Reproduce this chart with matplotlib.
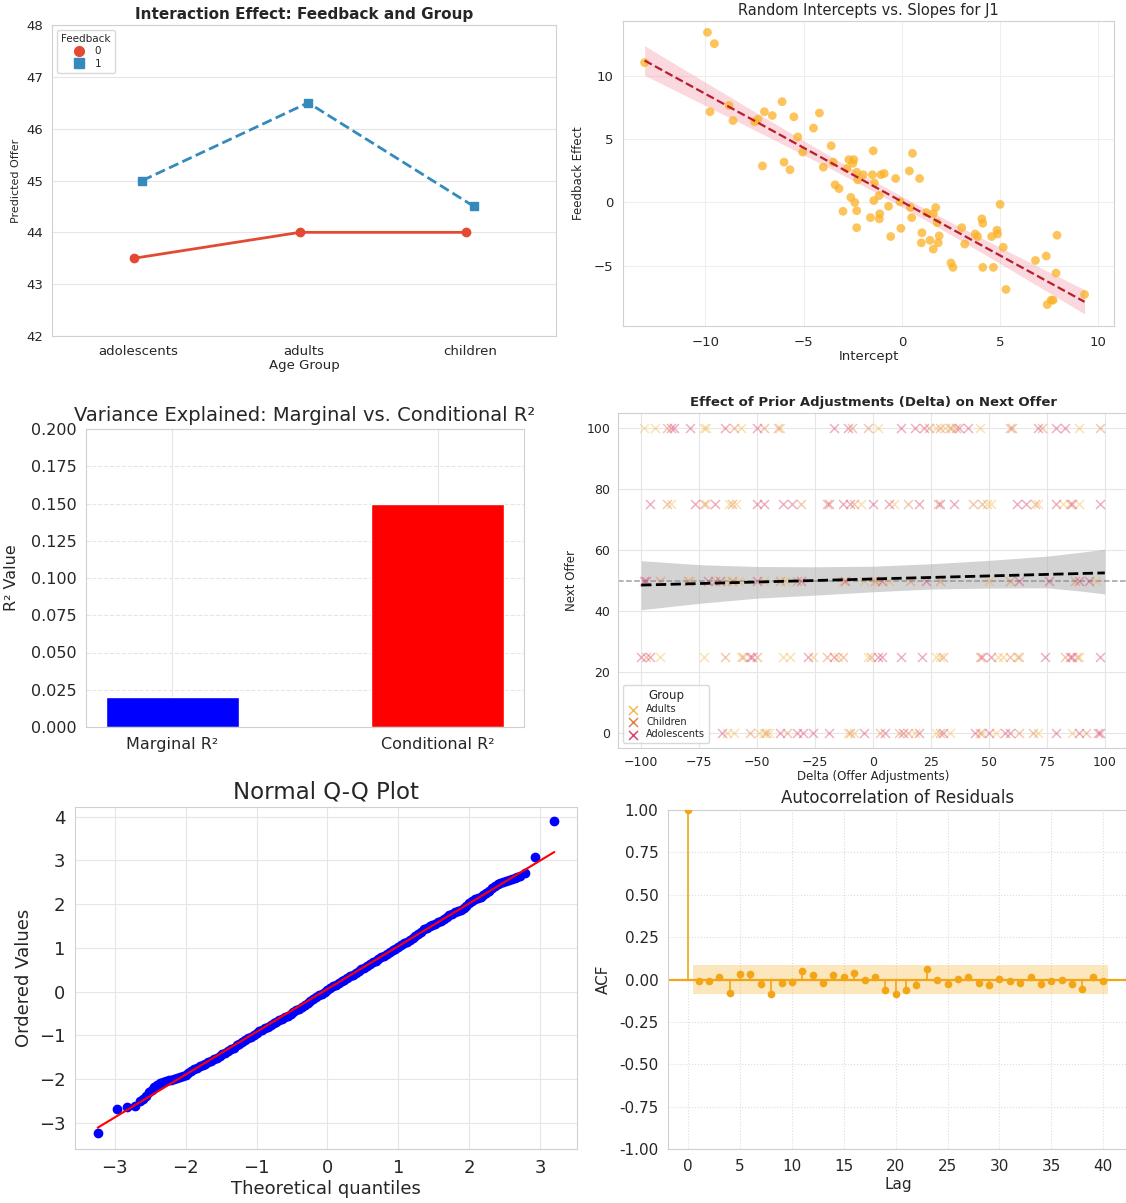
import numpy as np
import matplotlib.pyplot as plt
import seaborn as sns
from matplotlib.lines import Line2D

sns.set_style("whitegrid")
plt.rcParams['font.family'] = ['DejaVu Sans']
plt.rcParams['axes.edgecolor'] = '#d0d0d0'
plt.rcParams['grid.color'] = '#e6e6e6'

# ----- Panel 1: interaction effect -----
age_groups = ["adolescents", "adults", "children"]
offer_fb0 = [43.5, 44.0, 44.0]
offer_fb1 = [45.0, 46.5, 44.5]

# ----- Panel 2: random intercepts vs slopes -----
intercepts = [-13.1, -9.9, -9.55, -9.77, -8.8, -8.6, -7.33, -7.5, -7.0, -6.6, -7.1, -6.1,
              -6.0, -5.7, -5.5, -5.3, -5.05, -4.5, -4.2, -4.0, -3.6, -3.5, -3.4, -3.2, -3.0,
              -2.8, -2.7, -2.5, -2.45, -2.6, -2.4, -2.3, -2.3, -2.3, -2.25, -1.97, -1.6, -1.5,
              -1.46, -1.43, -1.4, -1.16, -1.13, -1.15, -1.07, -0.9, -0.68, -0.57, -0.32, -0.09,
              -0.05, 0.38, 0.43, 0.5, 0.54, 0.9, 1.02, 0.99, 1.25, 1.43, 1.6, 1.6, 1.72, 1.8,
              1.85, 1.9, 2.5, 2.6, 3.05, 3.2, 3.73, 3.85, 4.07, 4.12, 4.12, 4.57, 4.66, 4.84,
              4.87, 5.0, 5.16, 5.3, 6.8, 7.35, 7.4, 7.6, 7.7, 7.85, 7.9, 9.3]
feedback_eff = [11.1, 13.5, 12.6, 7.2, 7.7, 6.5, 6.6, 6.4, 7.2, 6.9, 2.9, 8.0,
                3.2, 2.6, 6.8, 5.2, 4.0, 5.9, 7.1, 2.8, 4.5, 3.2, 1.4, 1.1, -0.7,
                2.7, 3.4, 3.1, 3.4, 0.4, 0.0, 2.4, -0.65, -2.0, 1.8, 2.2, -1.2, 2.2,
                4.1, 0.15, 1.55, 0.55, -0.9, -1.3, 2.2, 2.3, -0.3, -2.7, 1.9, 0.05,
                -2.05, 2.5, -0.4, -1.2, 3.9, 1.9, -2.4, -3.2, -0.8, -3.0, -0.9, -3.7, -0.4, -1.6,
                -3.2, -2.65, -4.8, -5.15, -2.0, -3.3, -2.5, -2.7, -1.3, -1.65, -5.15, -2.7, -5.15, -2.2,
                -2.5, -0.15, -3.55, -6.9, -4.6, -4.25, -8.1, -7.75, -7.75, -5.6, -2.6, -7.3]

# ----- Panel 3: R squared -----
r2_labels = ["Marginal R²", "Conditional R²"]
r2_values = [0.02, 0.15]

# ----- Panel 4: delta vs next offer (groups: A=Adults, C=Children, D=Adolescents) -----
delta_100 = [-99, -94, -89, -87, -86, -79, -73, -72, -64, -60, -57, -50, -47, -41, -40, -17,
             -11, -9, -2, 2, 12, 18, 22, 24, 27, 29, 31, 33, 34, 36, 37, 41, 46, 59, 60, 71,
             73, 79, 83, 89, 98]
group_100 = "AACDDDAADCADCCADDCCADDDCACACACDDACCDCDDAC"
delta_75 = [-96, -89, -87, -77, -73, -72, -68, -62, -61, -59, -50, -47, -39, -35, -31, -20,
            -19, -13, -10, -8, -5, 0, 7, 9, 15, 20, 28, 29, 35, 43, 47, 49, 51, 62, 66, 70,
            71, 79, 82, 85, 86, 89, 98]
group_75 = "DCADCADACADDDDCCDDDCADDACDCDDCCAADDCADACDAD"
delta_50 = [-99, -98, -92, -80, -79, -71, -68, -66, -63, -61, -58, -50, -47, -40, -38, -33,
            -31, -13, -12, -4, 1, 2, 4, 7, 16, 23, 29, 50, 59, 63, 76, 87, 89, 93, 96]
group_50 = "DDCCADCDACADACACDADACADACDCACDDCDDA"
delta_25 = [-100, -98, -96, -92, -73, -64, -57, -56, -53, -52, -50, -39, -36, -28, -26, -20,
            -17, -15, -13, -2, -1, 2, 4, 12, 21, 27, 29, 30, 46, 47, 51, 54, 56, 59, 62, 63,
            74, 83, 85, 86, 88, 89, 98]
group_25 = "DCDAACACDDCAADACDACACDDDDAACCDDAACACDCDDCAD"
delta_0 = [-65, -63, -60, -53, -49, -47, -46, -45, -40, -37, -33, -30, -26, -19, -11, -10,
           -8, -4, 3, 5, 11, 13, 15, 18, 20, 27, 29, 30, 33, 44, 46, 47, 50, 53, 57, 59,
           63, 69, 71, 79, 86, 89, 92, 97, 98]
group_0 = "DAACAACADCDDDDACADCDCDCADACDADCADADDCCADADCDD"
offer_levels = [100, 75, 50, 25, 0]
group_names = {"A": "Adults", "C": "Children", "D": "Adolescents"}
group_colors = {"A": "#f2b33d", "C": "#e0733a", "D": "#d6335e"}

# fitted trend and confidence band
trend_x = [-100, 100]
trend_y = [48.5, 52.5]
band_x = [-100, -75, -50, -25, 0, 25, 50, 75, 90, 100]
band_hi = [56.5, 55.2, 54.6, 54.5, 54.7, 55.5, 56.6, 58.0, 59.3, 60.3]
band_lo = [40.4, 42.5, 44.2, 45.2, 46.3, 47.2, 47.5, 47.6, 46.5, 45.6]

# ----- Panel 5: Q-Q plot -----
theo_q = [-3.24, -2.97, -2.83, -2.71, -2.64, -2.60, -2.56, -2.52, -2.48, -2.44, -2.40, -2.36,
          -2.32, -2.28, -2.24, -2.20, -2.16, -2.12, -2.08, -2.04, -2.00, -1.96, -1.92, -1.88,
          -1.84, -1.80, -1.76, -1.72, -1.68, -1.64, -1.60, -1.56, -1.52, -1.48, -1.44, -1.40,
          -1.36, -1.32, -1.28, -1.24, -1.20, -1.16, -1.12, -1.08, -1.04, -1.00, -0.96, -0.92,
          -0.88, -0.84, -0.80, -0.76, -0.72, -0.68, -0.64, -0.60, -0.56, -0.52, -0.48, -0.44,
          -0.40, -0.36, -0.32, -0.28, -0.24, -0.20, -0.16, -0.12, -0.08, -0.04, 0.00, 0.04,
          0.08, 0.12, 0.16, 0.20, 0.24, 0.28, 0.32, 0.36, 0.40, 0.44, 0.48, 0.52, 0.56, 0.60,
          0.64, 0.68, 0.72, 0.76, 0.80, 0.84, 0.88, 0.92, 0.96, 1.00, 1.04, 1.08, 1.12, 1.16,
          1.20, 1.24, 1.28, 1.32, 1.36, 1.40, 1.44, 1.48, 1.52, 1.56, 1.60, 1.64, 1.68, 1.72,
          1.76, 1.80, 1.84, 1.88, 1.92, 1.96, 2.00, 2.04, 2.08, 2.12, 2.16, 2.20, 2.24, 2.28,
          2.32, 2.36, 2.40, 2.44, 2.48, 2.52, 2.56, 2.60, 2.64, 2.68, 2.72, 2.79, 2.93, 3.20]
ordered_vals = [-3.23, -2.68, -2.64, -2.62, -2.50, -2.45, -2.38, -2.30, -2.24, -2.18, -2.13, -2.09,
                -2.06, -2.04, -2.03, -2.02, -2.00, -1.98, -1.96, -1.93, -1.90, -1.86, -1.82, -1.78,
                -1.74, -1.71, -1.68, -1.65, -1.62, -1.58, -1.55, -1.51, -1.47, -1.43, -1.40, -1.36,
                -1.32, -1.28, -1.23, -1.19, -1.15, -1.11, -1.07, -1.03, -0.99, -0.95, -0.91, -0.87,
                -0.84, -0.80, -0.76, -0.73, -0.69, -0.66, -0.62, -0.58, -0.55, -0.51, -0.47, -0.43,
                -0.39, -0.35, -0.30, -0.26, -0.22, -0.17, -0.13, -0.09, -0.05, -0.01, 0.04, 0.08,
                0.12, 0.16, 0.20, 0.23, 0.27, 0.31, 0.35, 0.39, 0.43, 0.47, 0.51, 0.55, 0.59, 0.63,
                0.67, 0.71, 0.74, 0.78, 0.82, 0.86, 0.90, 0.94, 0.98, 1.02, 1.06, 1.10, 1.14, 1.18,
                1.22, 1.27, 1.32, 1.37, 1.42, 1.46, 1.49, 1.52, 1.55, 1.58, 1.62, 1.66, 1.71, 1.75,
                1.78, 1.81, 1.84, 1.87, 1.90, 1.96, 2.03, 2.08, 2.11, 2.13, 2.16, 2.20, 2.25, 2.31,
                2.37, 2.42, 2.45, 2.48, 2.51, 2.53, 2.55, 2.57, 2.60, 2.62, 2.65, 2.72, 3.08, 3.89]

# ----- Panel 6: ACF of residuals -----
acf_vals = [1.0, -0.01, -0.01, 0.016, -0.077, 0.03, 0.03, -0.024, -0.083, -0.018, -0.014,
            0.049, 0.028, -0.02, 0.024, 0.012, 0.036, -0.004, 0.016, -0.063, -0.083, -0.059,
            -0.034, 0.061, -0.004, -0.028, 0.002, 0.012, -0.018, -0.03, 0.004, -0.008, -0.018,
            0.012, -0.028, -0.008, -0.004, -0.024, -0.055, 0.012, -0.01]
acf_conf = 0.087

W, H = 1126, 1203
fig = plt.figure(figsize=(W / 100, H / 100), dpi=100)


def box(l, t, r, b):
    return fig.add_axes([l / W, 1 - b / H, (r - l) / W, (b - t) / H])


TXT = '#262626'

# ---------- Panel 1 ----------
ax1 = box(52, 25, 556, 336)
xpos = np.arange(len(age_groups))
ax1.plot(xpos - 0.025, offer_fb0, color='#E24A33', marker='o', ms=6, lw=2)
ax1.plot(xpos + 0.025, offer_fb1, color='#348ABD', marker='s', ms=6, lw=2, ls='--')
ax1.set_xlim(-0.52, 2.52)
ax1.set_ylim(42, 48)
ax1.set_xticks(xpos)
ax1.set_xticklabels(age_groups)
ax1.tick_params(labelsize=9.5, colors=TXT, pad=3)
ax1.xaxis.grid(False)
ax1.set_title("Interaction Effect: Feedback and Group", fontsize=11, fontweight='bold', pad=4)
ax1.set_xlabel("Age Group", fontsize=9.5, labelpad=1)
ax1.set_ylabel("Predicted Offer", fontsize=8, labelpad=4)
fb_handles = [Line2D([], [], ls='', marker='o', ms=7, color='#E24A33'),
              Line2D([], [], ls='', marker='s', ms=7, color='#348ABD')]
leg = ax1.legend(fb_handles, ['0', '1'], title="Feedback", loc='upper left', fontsize=7.5,
                 title_fontsize=7.5, frameon=True, borderpad=0.4, labelspacing=0.2,
                 handlelength=1.5)
leg.get_frame().set_edgecolor('#d0d0d0')

# ---------- Panel 2 ----------
ax2 = box(623, 21, 1114, 326)
ix = np.array(intercepts)
fy = np.array(feedback_eff)
ax2.scatter(ix, fy, color='#fbb124', alpha=0.75, s=40, edgecolor='none', zorder=3)
slope, icpt = np.polyfit(ix, fy, 1)
gx = np.linspace(ix.min(), ix.max(), 100)
gy = icpt + slope * gx
resid = fy - (icpt + slope * ix)
s_err = np.sqrt(np.sum(resid ** 2) / (len(ix) - 2))
se = s_err * np.sqrt(1 / len(ix) + (gx - ix.mean()) ** 2 / np.sum((ix - ix.mean()) ** 2))
ax2.fill_between(gx, gy - 1.98 * se, gy + 1.98 * se, color='#f08090', alpha=0.3, lw=0, zorder=2)
ax2.plot(gx, gy, color='#b81d2e', ls='--', lw=1.6, zorder=4)
ax2.set_xlim(-14.2, 10.8)
ax2.set_ylim(-9.8, 14.4)
ax2.set_xticks([-10, -5, 0, 5, 10])
ax2.set_yticks([-5, 0, 5, 10])
ax2.tick_params(labelsize=9.5, colors=TXT)
ax2.grid(color='#eeeeee')
ax2.set_title("Random Intercepts vs. Slopes for J1", fontsize=10.5, pad=4)
ax2.set_xlabel("Intercept", fontsize=9.5, labelpad=1)
ax2.set_ylabel("Feedback Effect", fontsize=8.5, labelpad=6)

# ---------- Panel 3 ----------
ax3 = box(86, 429, 524, 727)
ax3.bar(range(len(r2_labels)), r2_values, width=0.5, color=['blue', 'red'])
ax3.set_xticks(range(len(r2_labels)))
ax3.set_xticklabels(r2_labels)
ax3.set_ylim(0, 0.2)
ax3.set_yticks(np.arange(0, 0.201, 0.025))
ax3.yaxis.grid(True, ls='--')
ax3.tick_params(labelsize=11.5, colors=TXT)
ax3.set_title("Variance Explained: Marginal vs. Conditional R²", fontsize=14, pad=6)
ax3.set_ylabel("R² Value", fontsize=11.5, labelpad=8)

# ---------- Panel 4 ----------
ax4 = box(618, 413, 1128, 748)
ax4.fill_between(band_x, band_lo, band_hi, color='#b0b0b0', alpha=0.55, lw=0, zorder=1)
levels = [(delta_100, group_100), (delta_75, group_75), (delta_50, group_50),
          (delta_25, group_25), (delta_0, group_0)]
for key in ["A", "C", "D"]:
    xs, ys = [], []
    for lvl, (dl, gl) in zip(offer_levels, levels):
        for d, g in zip(dl, gl):
            if g == key:
                xs.append(d)
                ys.append(lvl)
    ax4.scatter(xs, ys, marker='x', s=42, lw=1.1, color=group_colors[key], alpha=0.38,
                label=group_names[key], zorder=2)
ax4.axhline(50, color='#888888', ls='--', lw=1.1, alpha=0.8, zorder=1.5)
ax4.plot(trend_x, trend_y, color='black', ls='--', lw=2, zorder=3)
ax4.set_xlim(-110, 110)
ax4.set_ylim(-5, 105)
ax4.set_xticks(np.arange(-100, 101, 25))
ax4.set_yticks([0, 20, 40, 60, 80, 100])
ax4.tick_params(labelsize=9, colors=TXT, pad=2)
ax4.set_title("Effect of Prior Adjustments (Delta) on Next Offer", fontsize=9.5,
              fontweight='bold', pad=5)
ax4.set_xlabel("Delta (Offer Adjustments)", fontsize=8.5, labelpad=1)
ax4.set_ylabel("Next Offer", fontsize=8.5, labelpad=6)
leg4 = ax4.legend(title="Group", loc='lower left', fontsize=7, title_fontsize=8.5,
                  borderpad=0.4, labelspacing=0.25, handlelength=1.2, frameon=True)
leg4.get_frame().set_edgecolor('#d0d0d0')
for h in leg4.legend_handles:
    h.set_alpha(0.9)

# ---------- Panel 5 ----------
ax5 = box(75, 807, 577, 1149)
tq = np.array(theo_q)
ov = np.array(ordered_vals)
qs, qi = np.polyfit(tq, ov, 1)
ax5.plot(tq, ov, 'o', color='blue', ms=6, zorder=2)
ax5.plot(tq, qs * tq + qi, color='red', lw=1.5, zorder=3)
ax5.set_xlim(-3.56, 3.52)
ax5.set_ylim(-3.6, 4.22)
ax5.set_xticks(np.arange(-3, 4))
ax5.set_yticks(np.arange(-3, 5))
ax5.tick_params(labelsize=13, colors=TXT)
ax5.set_title("Normal Q-Q Plot", fontsize=16.5, pad=6)
ax5.set_xlabel("Theoretical quantiles", fontsize=13, labelpad=2)
ax5.set_ylabel("Ordered Values", fontsize=13, labelpad=4)

# ---------- Panel 6 ----------
ax6 = box(668, 810, 1128, 1149)
lags = np.arange(len(acf_vals))
acf_color = '#f2a516'
ax6.fill_between([0.5, lags[-1] + 0.5], [-acf_conf, -acf_conf], [acf_conf, acf_conf],
                 color='#f8b840', alpha=0.35, lw=0, zorder=1)
ax6.axhline(0, color=acf_color, lw=1.6, zorder=2)
ax6.vlines(lags, 0, acf_vals, color=acf_color, lw=1.2, zorder=3)
ax6.plot(lags, acf_vals, 'o', color=acf_color, ms=4.5, zorder=4)
ax6.set_xlim(-1.95, 42.4)
ax6.set_ylim(-1.0, 1.0)
ax6.set_xticks(np.arange(0, 41, 5))
ax6.set_yticks(np.arange(-1.0, 1.01, 0.25))
ax6.yaxis.set_major_formatter(plt.FormatStrFormatter('%.2f'))
ax6.grid(ls=':', color='#dddddd')
ax6.tick_params(labelsize=11, colors=TXT)
ax6.set_title("Autocorrelation of Residuals", fontsize=12, pad=5)
ax6.set_xlabel("Lag", fontsize=11, labelpad=2)
ax6.set_ylabel("ACF", fontsize=11, labelpad=6)

fig.savefig("out.png", dpi=100, facecolor='white')
